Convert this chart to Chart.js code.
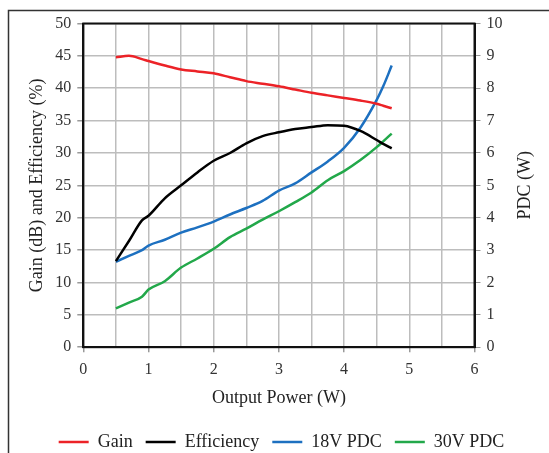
<!DOCTYPE html>
<html>
<head>
<meta charset="utf-8">
<script src="https://cdn.jsdelivr.net/npm/chart.js@4/dist/chart.umd.min.js"></script>
<style>
  html, body { margin: 0; padding: 0; background: #fff; }
  #wrap { width: 549px; height: 453px; position: relative; }
</style>
</head>
<body>
<div id="wrap"><canvas id="graph1" width="549" height="453"></canvas></div>
<script>
const outputPower = [0.5, 0.7, 0.9, 1.0, 1.25, 1.5, 1.75, 2.0, 2.25, 2.5, 2.75, 3.0, 3.25, 3.5, 3.75, 4.0, 4.25, 4.5, 4.6, 4.73];
const gain = [44.8, 45.0, 44.5, 44.2, 43.5, 42.9, 42.6, 42.3, 41.7, 41.1, 40.7, 40.3, 39.8, 39.3, 38.9, 38.5, 38.1, 37.6, 37.3, 36.9];
const efficiency = [13.3, 16.4, 19.6, 20.3, 23.0, 25.0, 27.0, 28.8, 30.0, 31.5, 32.6, 33.2, 33.7, 34.0, 34.3, 34.2, 33.4, 32.0, 31.4, 30.7];
const pdc18 = [2.64, 2.82, 3.0, 3.14, 3.32, 3.54, 3.7, 3.88, 4.1, 4.3, 4.52, 4.84, 5.06, 5.4, 5.74, 6.16, 6.78, 7.64, 8.06, 8.7];
const pdc30 = [1.2, 1.38, 1.56, 1.78, 2.04, 2.46, 2.74, 3.04, 3.4, 3.66, 3.94, 4.2, 4.48, 4.78, 5.16, 5.44, 5.78, 6.18, 6.36, 6.6];

const pts = (ys) => outputPower.map((x, i) => ({ x: x, y: ys[i] }));

const serif = "'Liberation Serif', 'DejaVu Serif', serif";

// frame round the whole figure, black box round the plot, right axis title (reads upward)
const boxes = {
    id: 'boxes',
    beforeDraw(chart) {
        const c = chart.ctx;
        c.save();
        c.strokeStyle = '#333';
        c.lineWidth = 1.5;
        c.beginPath();
        c.moveTo(8.5, 453);
        c.lineTo(8.5, 10.5);
        c.lineTo(549, 10.5);
        c.stroke();
        c.restore();
    },
    beforeDatasetsDraw(chart) {
        const a = chart.chartArea;
        const c = chart.ctx;
        c.save();
        c.strokeStyle = '#111';
        c.lineWidth = 2;
        c.strokeRect(a.left, a.top, a.right - a.left, a.bottom - a.top);
        c.restore();
    },
    afterDraw(chart) {
        const a = chart.chartArea;
        const c = chart.ctx;
        c.save();
        c.translate(525, (a.top + a.bottom) / 2);
        c.rotate(-Math.PI / 2);
        c.fillStyle = '#222';
        c.font = "18px " + serif;
        c.textAlign = 'center';
        c.textBaseline = 'middle';
        c.fillText('PDC (W)', 0, 0);
        c.restore();
    }
};

const line = (label, data, color, axis) => ({
    label: label,
    data: pts(data),
    borderColor: color,
    backgroundColor: color,
    borderWidth: 2.5,
    pointRadius: 0,
    cubicInterpolationMode: 'monotone',
    yAxisID: axis
});

const chart1 = document.getElementById('graph1').getContext('2d');
const myChart1 = new Chart(chart1, {
    type: 'line',
    data: {
        datasets: [
            line('Gain', gain, '#ec2227', 'y'),
            line('Efficiency', efficiency, '#000000', 'y'),
            line('18V PDC', pdc18, '#1d70c0', 'y2'),
            line('30V PDC', pdc30, '#22a84a', 'y2')
        ]
    },
    options: {
        animation: false,
        responsive: false,
        layout: { padding: { top: 23.5, right: 8, left: 22, bottom: -8 } },
        scales: {
            x: {
                type: 'linear',
                min: 0,
                max: 6,
                grid: {
                    color: '#bdbdbd',
                    lineWidth: 1.5,
                    tickLength: 5,
                    tickColor: (ctx) => (ctx.tick && ctx.tick.value % 1 === 0) ? '#999' : 'rgba(0,0,0,0)'
                },
                border: { color: '#111', width: 2 },
                ticks: {
                    stepSize: 0.5,
                    autoSkip: false,
                    maxRotation: 0,
                    padding: 8,
                    color: '#333',
                    font: { family: serif, size: 16 },
                    callback: (v) => (v % 1 === 0 ? v : '')
                },
                title: {
                    display: true,
                    text: 'Output Power (W)',
                    color: '#222',
                    font: { family: serif, size: 18 },
                    padding: { top: 0, bottom: 11 }
                }
            },
            y: {
                position: 'left',
                min: 0,
                max: 50,
                afterFit: (s) => { s.width = 61.3; },
                grid: { color: '#bdbdbd', lineWidth: 1.5, tickLength: 6, tickColor: '#999' },
                border: { color: '#111', width: 2 },
                ticks: {
                    stepSize: 5,
                    padding: 6,
                    color: '#333',
                    font: { family: serif, size: 16 }
                },
                title: {
                    display: true,
                    text: 'Gain (dB) and Efficiency (%)',
                    color: '#222',
                    font: { family: serif, size: 18 }
                }
            },
            y2: {
                position: 'right',
                min: 0,
                max: 10,
                afterFit: (s) => { s.width = 66.5; },
                grid: { drawOnChartArea: false, tickLength: 6, tickColor: '#999' },
                border: { color: '#111', width: 2 },
                ticks: {
                    stepSize: 1,
                    padding: 6,
                    color: '#333',
                    font: { family: serif, size: 16 }
                }
            }
        },
        plugins: {
            legend: {
                position: 'bottom',
                labels: {
                    usePointStyle: true,
                    pointStyle: 'line',
                    pointStyleWidth: 30,
                    color: '#222',
                    padding: 13,
                    font: { family: serif, size: 18 }
                }
            },
            tooltip: { enabled: false }
        }
    },
    plugins: [boxes]
});
</script>
</body>
</html>
